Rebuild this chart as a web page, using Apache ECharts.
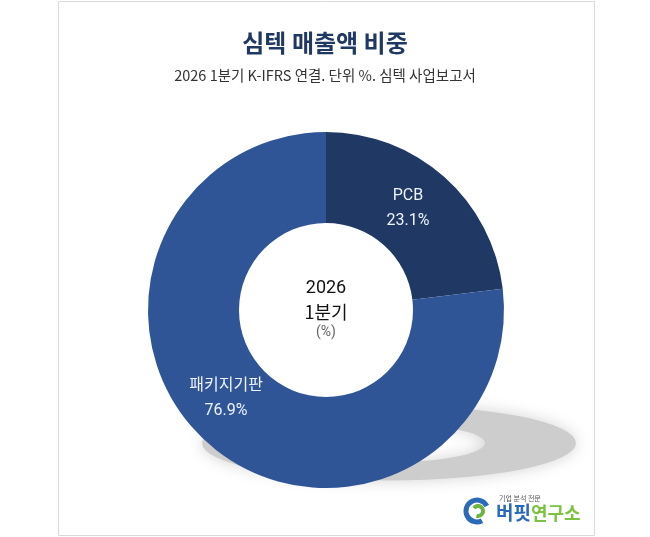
<!DOCTYPE html>
<html>
<head>
<meta charset="utf-8">
<script src="https://cdn.jsdelivr.net/npm/echarts@6/dist/echarts.min.js"></script>
<style>
  html, body { margin: 0; padding: 0; background: #fff; }
  #chart { width: 650px; height: 537px; }
</style>
</head>
<body>
<div id="chart"></div>
<script>
// 심텍 매출액 비중 (2026 1분기)
const categories = ["PCB", "패키지기판"];
const shares = [23.1, 76.9];
const sliceColors = ["#1f3864", "#2f5597"];
// nudges the inside labels a little toward where the original sits
const labelPadding = [[0, 16, 0, 0], [0, 20, 0, 0]];
const labelTail = ["", "\n "];

const titleText = "심텍 매출액 비중";
const subText = "2026 1분기 K-IFRS 연결. 단위 %. 심텍 사업보고서";
const centerLines = ["2026", "1분기", "(%)"];

const KR = '"Noto Sans CJK KR", "Noto Sans", sans-serif';
const NUM = 'Roboto, "Noto Sans CJK KR", sans-serif';

const chart = echarts.init(document.getElementById("chart"));

chart.setOption({
	backgroundColor: "#fff",
	animation: false,
	title: {
		text: titleText,
		subtext: subText,
		left: "center",
		top: 26,
		itemGap: 13,
		textStyle: {
			color: "#1f3864",
			fontFamily: KR,
			fontWeight: "bold",
			fontSize: 24,
		},
		subtextStyle: {
			color: "#333",
			fontFamily: KR,
			fontSize: 14.5,
		},
	},
	graphic: [
		// frame
		{
			type: "rect",
			z: -10,
			shape: { x: 58.5, y: 1.5, width: 536, height: 534 },
			style: { fill: "#fff", stroke: "#dadada", lineWidth: 1 },
		},
		// floor shadow
		{
			type: "ring",
			z: -5,
			x: 389,
			y: 443,
			scaleY: 0.2,
			shape: { cx: 0, cy: 0, r: 187, r0: 96 },
			style: { fill: "#cdcdcd", shadowBlur: 16, shadowColor: "#d4d4d4" },
		},
		// center text
		{
			type: "text",
			z: 10,
			style: {
				text: centerLines[0],
				x: 326,
				y: 288,
				align: "center",
				verticalAlign: "middle",
				font: "18px " + NUM,
				fill: "#111",
			},
		},
		{
			type: "text",
			z: 10,
			style: {
				text: centerLines[1],
				x: 326,
				y: 312,
				align: "center",
				verticalAlign: "middle",
				font: "18px " + KR,
				fill: "#111",
			},
		},
		{
			type: "text",
			z: 10,
			style: {
				text: centerLines[2],
				x: 326,
				y: 332,
				align: "center",
				verticalAlign: "middle",
				font: "14px " + NUM,
				fill: "#666",
			},
		},
		// logo
		{
			type: "arc",
			shape: { cx: 477, cy: 511, r: 11, startAngle: Math.PI * 0.35, endAngle: Math.PI * 1.85 },
			style: { stroke: "#2a6ab8", lineWidth: 5, fill: null },
		},
		{
			type: "arc",
			shape: { cx: 478, cy: 511, r: 5, startAngle: Math.PI * 1.2, endAngle: Math.PI * 2.6 },
			style: { stroke: "#6cb33f", lineWidth: 4, fill: null },
		},
		{
			type: "text",
			style: {
				text: "기업 분석 전문",
				x: 499,
				y: 498,
				verticalAlign: "middle",
				font: "7px " + KR,
				fill: "#555",
			},
		},
		{
			type: "text",
			style: {
				text: "버핏",
				x: 496,
				y: 513,
				verticalAlign: "middle",
				font: "bold 19px " + KR,
				fill: "#2a6ab8",
			},
		},
		{
			type: "text",
			style: {
				text: "연구소",
				x: 531,
				y: 513,
				verticalAlign: "middle",
				font: "bold 18px " + KR,
				fill: "#7cc242",
			},
		},
	],
	series: [
		{
			type: "pie",
			center: [326, 310],
			radius: [87, 178],
			startAngle: 90,
			clockwise: true,
			silent: true,
			itemStyle: { borderWidth: 0 },
			label: {
				show: true,
				position: "inside",
				color: "#eef2fa",
				fontFamily: NUM,
				fontSize: 16,
				lineHeight: 25,
				formatter: (p) =>
					p.name + "\n" + p.value.toFixed(1) + "%" + labelTail[p.dataIndex],
			},
			labelLine: { show: false },
			data: categories.map((name, i) => ({
				name: name,
				value: shares[i],
				itemStyle: { color: sliceColors[i] },
				label: { padding: labelPadding[i] },
			})),
		},
	],
});
</script>
</body>
</html>
